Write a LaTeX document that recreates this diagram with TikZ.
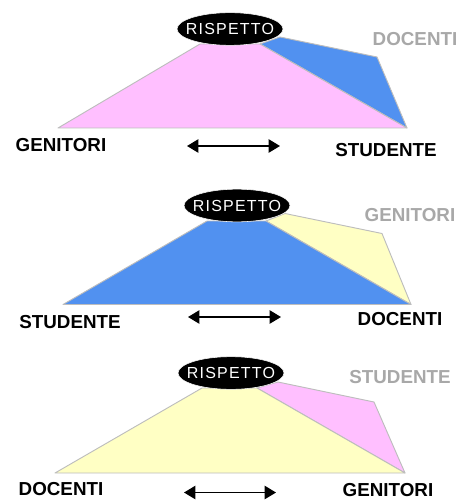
\documentclass[tikz,border=0pt]{standalone}
\usepackage{fontspec}
\setmainfont{Liberation Sans}
\newfontfamily\spacedfont[LetterSpace=7.5]{Liberation Sans}
\usetikzlibrary{arrows.meta,shapes.geometric}
\definecolor{pinkfill}{HTML}{FFBFFF}
\definecolor{bluefill}{HTML}{5191F0}
\definecolor{yellowfill}{HTML}{FFFFC4}
\definecolor{edgegray}{HTML}{BDBDBD}
\definecolor{labelgray}{HTML}{A8A8A8}
\tikzset{
  face/.style={draw=edgegray,line width=0.7pt,line join=round},
  rispetto/.style={ellipse,fill=black,draw=white,line width=0.4pt,minimum width=79.5pt,minimum height=24.5pt,inner sep=0pt,
    label={[inner sep=0pt,text=white,font=\spacedfont\fontsize{12}{12}\selectfont]center:RISPETTO}},
  mainlabel/.style={inner sep=0pt,text depth=0pt,font=\bfseries\fontsize{14.1}{14}\selectfont,text=black},
  backlabel/.style={mainlabel,text=labelgray},
  link/.style={black,line width=0.9pt,{Triangle[length=8.5pt,width=10pt]}-{Triangle[length=8.5pt,width=10pt]}}
}
\begin{document}
\begin{tikzpicture}[x=0.75pt,y=-0.75pt]
\useasboundingbox (0,0) rectangle (457,502);
% panel 1
\draw[face,fill=bluefill] (260,44) -- (280,37) -- (377,57) -- (407,128) -- cycle;
\draw[face,fill=pinkfill] (58,128) -- (200,44) -- (260,44) -- (407,128) -- cycle;
\node[rispetto] (r1) at (230,29) {};
\node[mainlabel] (a1) at (61,144.5) {GENITORI};
\node[mainlabel] (b1) at (386,149.5) {STUDENTE};
\node[backlabel] (c1) at (415,39) {DOCENTI};
\coordinate (l1) at (187,146);
\coordinate (m1) at (280,146);
\draw[link] (l1) -- (m1);
% panel 2
\draw[face,fill=yellowfill] (266,221) -- (285,213.5) -- (382,233.5) -- (411,304.5) -- cycle;
\draw[face,fill=bluefill] (63,304.5) -- (207,221) -- (266,221) -- (411,304.5) -- cycle;
\node[rispetto] (r2) at (237,205.5) {};
\node[mainlabel] (a2) at (70,321.5) {STUDENTE};
\node[mainlabel] (b2) at (400,319) {DOCENTI};
\node[backlabel] (c2) at (410,215) {GENITORI};
\coordinate (l2) at (188,317);
\coordinate (m2) at (281,317);
\draw[link] (l2) -- (m2);
% panel 3
\draw[face,fill=pinkfill] (257,388) -- (278,382) -- (374,402) -- (405,473) -- cycle;
\draw[face,fill=yellowfill] (55,473) -- (202,388) -- (257,388) -- (405,473) -- cycle;
\node[rispetto] (r3) at (231,373) {};
\node[mainlabel] (a3) at (61,488.5) {DOCENTI};
\node[mainlabel] (b3) at (388,490) {GENITORI};
\node[backlabel] (c3) at (400,377) {STUDENTE};
\coordinate (l3) at (184,492.5);
\coordinate (m3) at (276,492.5);
\draw[link] (l3) -- (m3);
\end{tikzpicture}
\end{document}
